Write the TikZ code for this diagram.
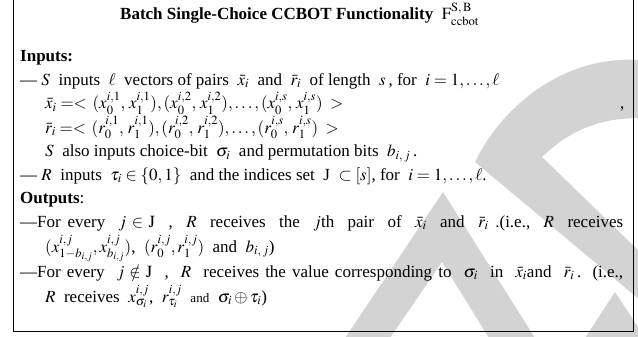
\documentclass[tikz,border=0pt]{standalone}
\usepackage{mathptmx}
\usepackage{fontspec}
\setmainfont{Liberation Serif}
\usepackage{tikz}

\definecolor{wmgray}{RGB}{211,211,211}
\tikzset{
  txt/.style={anchor=base west,inner sep=0pt,font=\fontsize{17}{19}\selectfont},
  ttl/.style={anchor=base west,inner sep=0pt,font=\fontsize{17}{19}\selectfont\bfseries},
  wmark/.style={fill=wmgray,draw=none},
  boxline/.style={line width=0.9pt}
}

\begin{document}
\begin{tikzpicture}[x=1pt,y=-1pt]
\useasboundingbox (0,0) rectangle (638,337);

\begin{scope}
\clip (0,0) rectangle (638,337);
\fill[wmark] (640,60) .. controls (560,55) and (500,110) .. (475,162) -- (640,300) -- (640,252) -- (542,157) .. controls (570,130) and (600,118) .. (640,118) -- cycle;
\fill[wmark] (443,192) -- (345,338) -- (390,338) -- (442,262) -- (489,338) -- (535,338) -- cycle;
\fill[wmark] (615,292) -- (585,338) -- (640,338) -- (640,330) -- cycle;
\end{scope}

\draw[boxline] (13,0) -- (13,331) -- (633,331) -- (633,0);

\draw (120,20) node[ttl] (title) {Batch Single-Choice CCBOT Functionality\ \ $\mathrm{F}^{\mathrm{S,\,B}}_{\mathrm{ccbot}}$};

\draw (20,62) node[ttl] (inp) {Inputs:};
\draw (20,85) node[txt] (in1) {\textemdash\ $S$\ \ inputs\ \ $\ell$\ \ vectors of pairs\ \ $\bar{x}_i$\ \ and\ \ $\bar{r}_i$\ \ of length\ \ $s$\,, for\ \ $i=1,\ldots,\ell$};
\draw (45,109) node[txt] (xv) {$\bar{x}_i =<\, (x_0^{i,1},\,x_1^{i,1}),(x_0^{i,2},\,x_1^{i,2}),\ldots,(x_0^{i,s},\,x_1^{i,s})\; >$};
\draw (620,109) node[txt] (cm) {,};
\draw (45,133) node[txt] (rv) {$\bar{r}_i =<\, (r_0^{i,1},\,r_1^{i,1}),(r_0^{i,2},\,r_1^{i,2}),\ldots,(r_0^{i,s},\,r_1^{i,s})\; >$};
\draw (45,157) node[txt] (in2) {$S$\ \ also inputs choice-bit\ \ $\sigma_i$\ \ and permutation bits\ \ $b_{i,\,j}$\,.};
\draw (20,180) node[txt] (in3) {\textemdash\ $R$\ \ inputs\ \ $\tau_i\in\{0,1\}$\ \ and the indices set\ \ J\ \ $\subset[s]$, for\ \ $i=1,\ldots,\ell$.};

\draw (20,203) node[txt] (outp) {\textbf{Outputs}:};
\draw (20,227) node[txt] (out1) {\makebox[603pt][s]{\textemdash For every\ \ $j\in\mathrm{J}$\ \ ,\ \ $R$\ \ receives\ \ the\ \ $j$th\ \ pair\ \ of\ \ $\bar{x}_i$\ \ and\ \ $\bar{r}_i$\ .(i.e.,\ \ $R$\ \ receives}};
\draw (45,252) node[txt] (out2) {$(x^{i,j}_{1-b_{i,j}},x^{i,j}_{b_{i,j}})$,\ \ $(r_0^{i,j},r_1^{i,j})$\ \ and\ \ $b_{i,\,j}$)};
\draw (20,277) node[txt] (out3) {\makebox[603pt][s]{\textemdash For every\ \ $j\notin\mathrm{J}$\ \ ,\ \ $R$\ \ receives the value corresponding to\ \ $\sigma_i$\ \ in\ \ $\bar{x}_i$and\ \ $\bar{r}_i$\,. (i.e.,}};
\draw (45,302) node[txt] (out4) {$R$\ \ receives\ \ $x^{i,j}_{\sigma_i}$,\ \ $r^{i,j}_{\tau_i}$\ \ {\fontsize{13}{15}\selectfont and}\ \ $\sigma_i\oplus\tau_i$)};
\end{tikzpicture}
\end{document}
